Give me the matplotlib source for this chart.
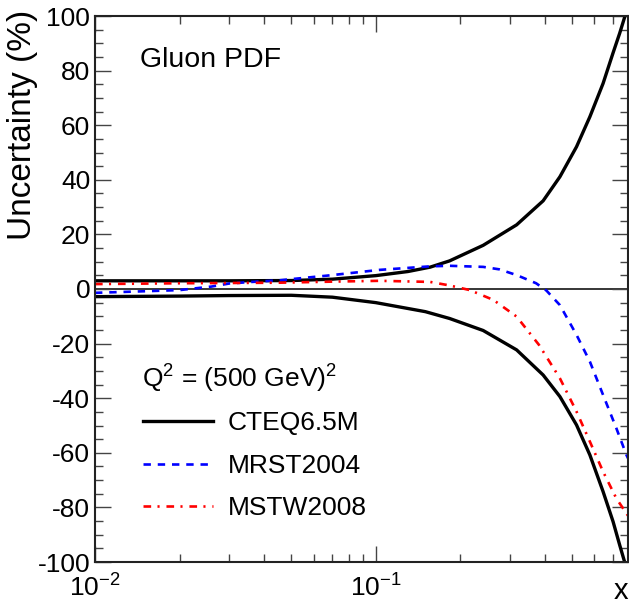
import numpy as np
import matplotlib
matplotlib.use('Agg')
import matplotlib.pyplot as plt
from matplotlib.ticker import LogLocator, LogFormatterMathtext, MultipleLocator, NullFormatter

plt.rcParams['font.family'] = ['Liberation Sans', 'DejaVu Sans']
plt.rcParams['mathtext.default'] = 'regular'
plt.rcParams['axes.unicode_minus'] = False

# CTEQ6.5M upper / lower uncertainty band
cteq_up_x = [0.01, 0.02, 0.03, 0.05, 0.07, 0.1, 0.13, 0.156, 0.183, 0.241, 0.317, 0.394,
             0.452, 0.518, 0.578, 0.644, 0.699, 0.738, 0.773, 0.79]
cteq_up_y = [3.0, 3.0, 3.0, 3.1, 3.6, 4.9, 6.4, 8.0, 10.3, 16.0, 23.5, 32.3,
             41.1, 52.1, 63.1, 75.3, 86.5, 93.7, 100.4, 103.5]
cteq_lo_x = [0.01, 0.02, 0.03, 0.05, 0.07, 0.1, 0.15, 0.183, 0.241, 0.317, 0.394,
             0.452, 0.518, 0.578, 0.644, 0.699, 0.738, 0.768, 0.79]
cteq_lo_y = [-2.8, -2.6, -2.4, -2.3, -3.0, -5.0, -8.3, -10.8, -15.2, -22.3, -31.5,
             -39.4, -49.8, -60.8, -74.2, -85.2, -93.8, -99.9, -105.0]

# MRST2004
mrst_x = [0.01, 0.0133, 0.02, 0.026, 0.030, 0.035, 0.0455, 0.0686, 0.103, 0.156, 0.183,
          0.241, 0.275, 0.317, 0.372, 0.405, 0.452, 0.518, 0.578, 0.644, 0.718, 0.78, 0.79]
mrst_y = [-1.4, -1.0, -0.4, 0.9, 2.0, 2.5, 3.2, 5.0, 7.0, 8.3, 8.5,
          8.1, 7.2, 5.1, 2.1, -0.6, -5.9, -16.8, -26.6, -38.8, -51.0, -60.8, -62.0]

# MSTW2008
mstw_x = [0.01, 0.02, 0.045, 0.07, 0.103, 0.156, 0.183, 0.216, 0.262, 0.317, 0.381,
          0.452, 0.518, 0.578, 0.644, 0.718, 0.78, 0.79]
mstw_y = [1.8, 2.1, 2.3, 2.7, 3.0, 2.6, 1.3, -0.4, -4.0, -10.1, -20.5,
          -32.7, -44.9, -55.9, -66.9, -76.7, -82.2, -83.0]

fig = plt.figure(figsize=(6.29, 6.04), dpi=100)
ax = fig.add_axes([95 / 629, 1 - 562 / 604, (628 - 95) / 629, (562 - 16) / 604])

ax.axhline(0, color='black', lw=1.1, zorder=1)
ax.plot(cteq_up_x, cteq_up_y, color='black', lw=2.4, label='CTEQ6.5M')
ax.plot(cteq_lo_x, cteq_lo_y, color='black', lw=2.4)
ax.plot(mrst_x, mrst_y, color='blue', lw=1.9, dashes=(2.8, 2.6), label='MRST2004')
ax.plot(mstw_x, mstw_y, color='red', lw=1.9, dashes=(2.9, 2.4, 0.8, 2.6), label='MSTW2008')

ax.set_xscale('log')
ax.set_xlim(0.01, 0.79)
ax.set_ylim(-100, 100)

ax.xaxis.set_major_locator(LogLocator(base=10, numticks=5))
ax.xaxis.set_major_formatter(LogFormatterMathtext())
ax.xaxis.set_minor_locator(LogLocator(base=10, subs=np.arange(2, 10), numticks=20))
ax.xaxis.set_minor_formatter(NullFormatter())
ax.yaxis.set_major_locator(MultipleLocator(20))
ax.yaxis.set_minor_locator(MultipleLocator(5))

ax.tick_params(which='both', direction='in', top=True, right=True, color='#444444', width=1.0)
ax.tick_params(which='major', length=11.5, labelsize=19)
ax.tick_params(axis='x', which='major', pad=9)
ax.tick_params(which='minor', length=5.8)
for s in ax.spines.values():
    s.set_linewidth(1.5)
    s.set_color('#222222')

ax.set_ylabel('Uncertainty (%)', loc='top', fontsize=24)
ax.yaxis.set_label_coords(-0.107, 1.011)
ax.set_xlabel('x', loc='right', fontsize=21, va='baseline')
ax.xaxis.set_label_coords(1.0, -0.068)

ax.text(0.085, 0.9066, 'Gluon PDF', transform=ax.transAxes, fontsize=20.5, va='baseline')
ax.text(0.088, 0.319, 'Q$^2$ = (500 GeV)$^2$', transform=ax.transAxes, fontsize=19, va='baseline')

ax.legend(loc='center left', bbox_to_anchor=(0.090, 0.176), frameon=False, fontsize=19,
          borderpad=0, borderaxespad=0, handlelength=2.65, handletextpad=0.57, labelspacing=0.70)

fig.savefig('out.png', dpi=100)
